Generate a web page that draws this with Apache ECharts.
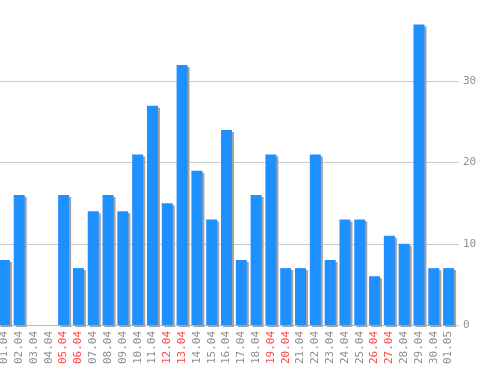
<!DOCTYPE html>
<html>
<head>
<meta charset="utf-8">
<script src="https://cdn.jsdelivr.net/npm/echarts@6/dist/echarts.min.js"></script>
<style>html,body{margin:0;padding:0;background:#fff;overflow:hidden;}#c{width:501px;height:370px;margin-left:-3px;}</style>
</head>
<body>
<div id="c"></div>
<script>
var categories = ['01.04','02.04','03.04','04.04','05.04','06.04','07.04','08.04','09.04','10.04','11.04','12.04','13.04','14.04','15.04','16.04','17.04','18.04','19.04','20.04','21.04','22.04','23.04','24.04','25.04','26.04','27.04','28.04','29.04','30.04','01.05'];
var values = [8,16,0,0,16,7,14,16,14,21,27,15,32,19,13,24,8,16,21,7,7,21,8,13,13,6,11,10,37,7,7];
var weekendLabels = ['05.04','06.04','12.04','13.04','19.04','20.04','26.04','27.04'];
var yTicks = [0,10,20,30,40];

var chart = echarts.init(document.getElementById('c'), null, {renderer:'canvas'});
chart.setOption({
  animation: false,
  backgroundColor: '#ffffff',
  grid: {left: 0, right: 42, top: 0, bottom: 45, containLabel: false},
  xAxis: {
    type: 'category',
    data: categories,
    axisLine: {show: true, lineStyle: {color: '#bbbbbb', width: 1}},
    axisTick: {show: false},
    axisLabel: {
      rotate: 90,
      interval: 0,
      margin: 6,
      fontFamily: 'DejaVu Sans Mono',
      fontSize: 11,
      color: function (v) { return weekendLabels.indexOf(v) >= 0 ? '#ff4a4a' : '#8f8f8f'; }
    }
  },
  yAxis: {
    type: 'value',
    position: 'right',
    min: yTicks[0],
    max: yTicks[yTicks.length - 1],
    interval: 10,
    axisLine: {show: false},
    axisTick: {show: true, length: 3, lineStyle: {color: '#cccccc'}},
    axisLabel: {
      showMaxLabel: false,
      margin: 7,
      fontFamily: 'DejaVu Sans Mono',
      fontSize: 11,
      color: '#8f8f8f'
    },
    splitLine: {show: true, lineStyle: {color: ['#cccccc','#cccccc','#cccccc','#cccccc','rgba(0,0,0,0)'], width: 1}}
  },
  series: [{
    type: 'bar',
    data: values,
    barWidth: 11,
    itemStyle: {
      color: '#1e90ff',
      shadowColor: '#a3a3a3',
      shadowOffsetX: 2,
      shadowOffsetY: 2,
      shadowBlur: 0
    }
  }]
});
</script>
</body>
</html>
